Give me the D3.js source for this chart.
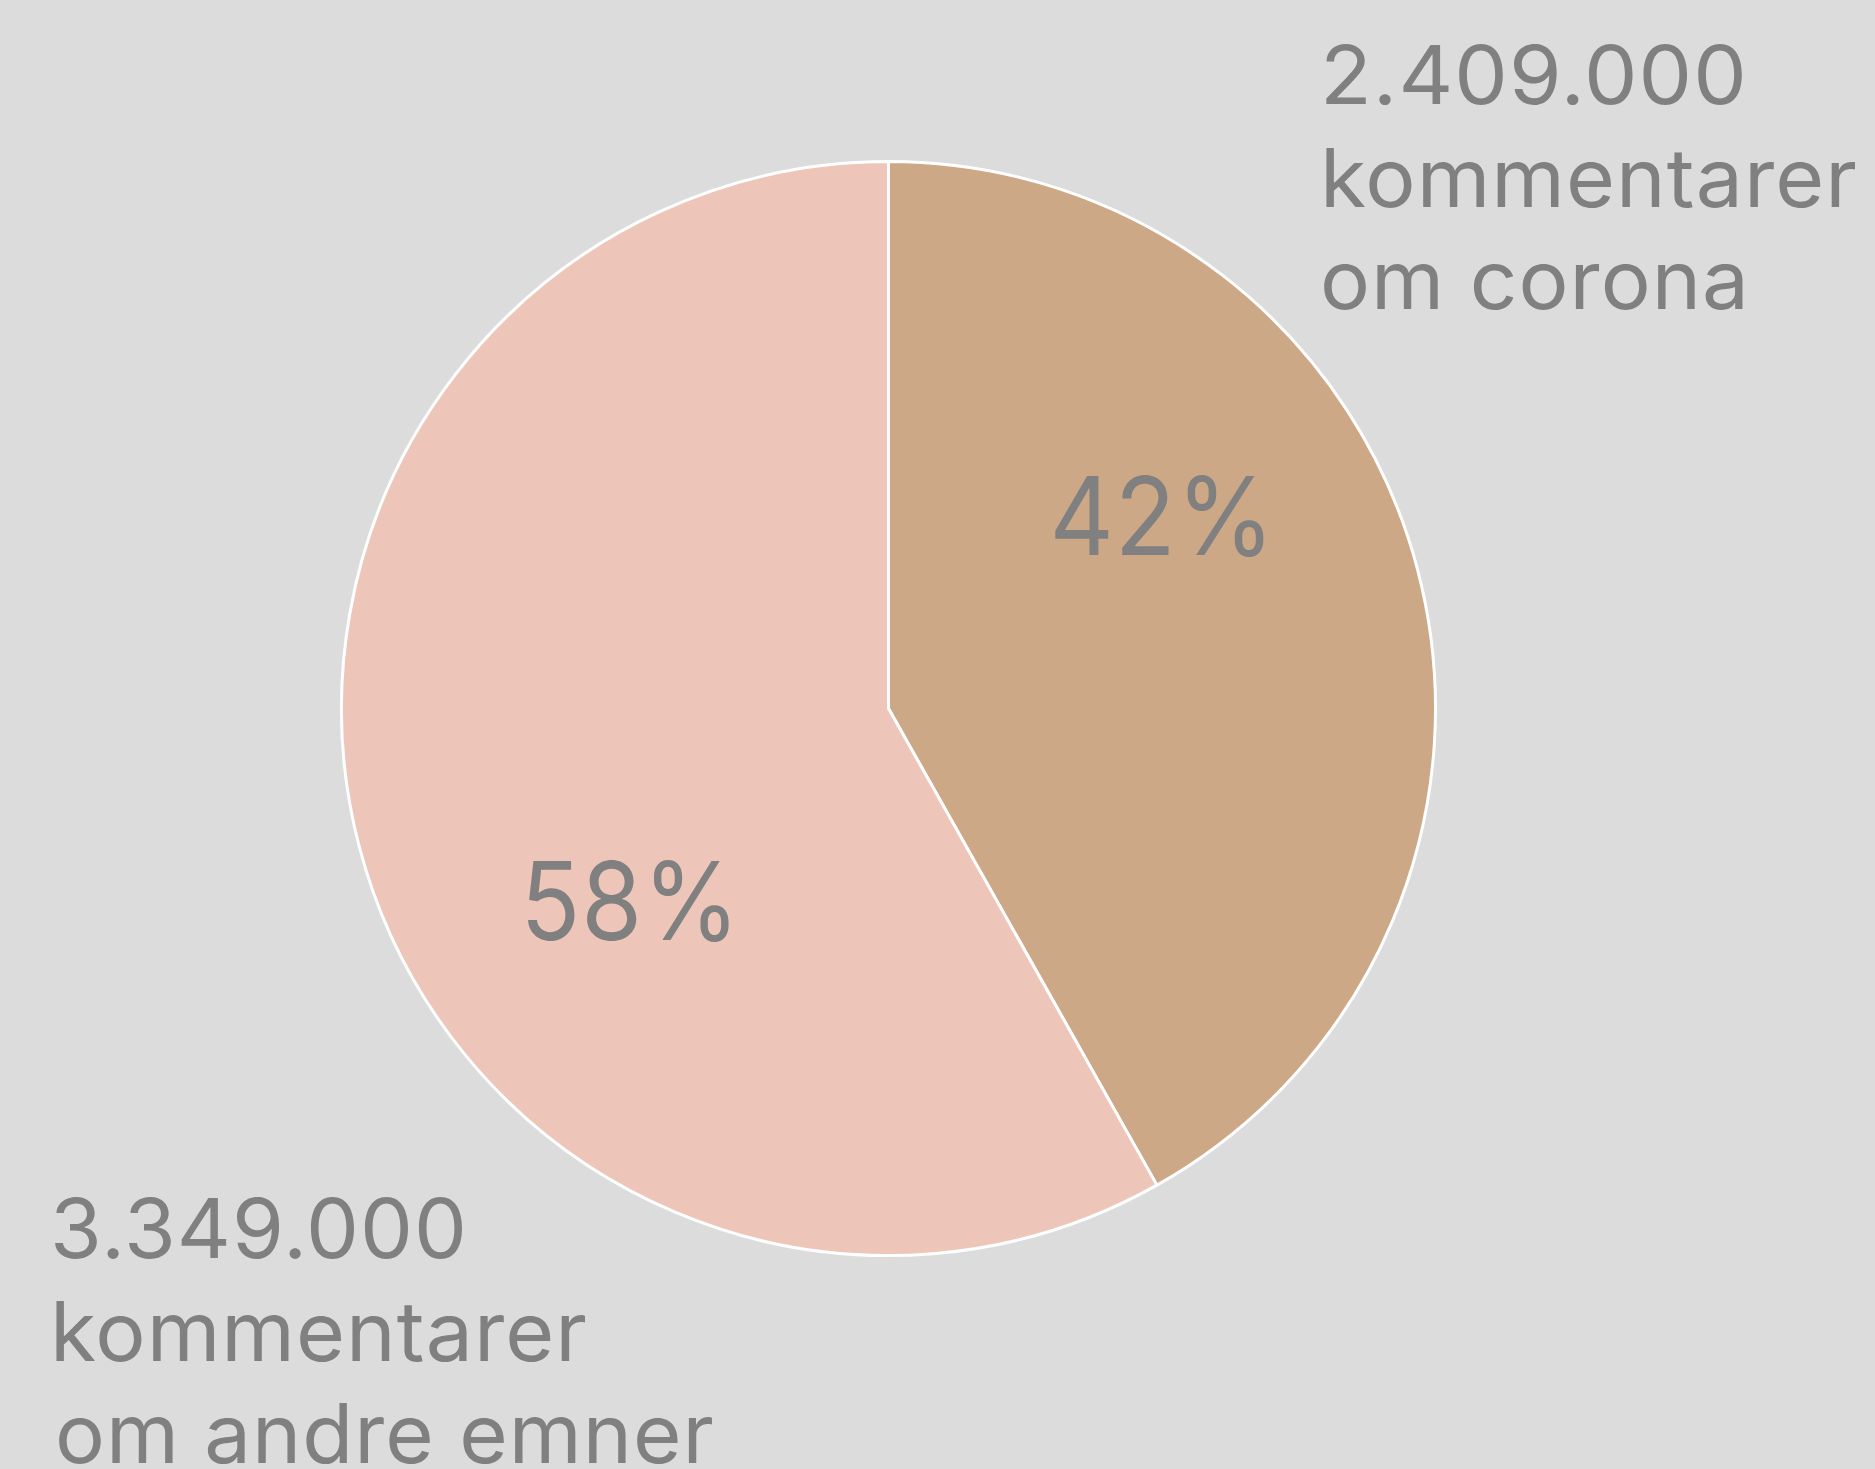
<!DOCTYPE html>
<html><head><meta charset="utf-8">
<script src="https://cdn.jsdelivr.net/npm/d3@7"></script>
<style>html,body{margin:0;padding:0;background:#dcdcdc;}svg{display:block;}</style>
</head><body>
<script>
const categories = ["om corona", "om andre emner"];
const values = [2409000, 3349000];
const percentLabels = ["42%", "58%"];
const countLabels = ["2.409.000", "3.349.000"];
const lineLabels = [["kommentarer", "om corona"], ["kommentarer", "om andre emner"]];
const colors = ["#cca886", "#edc6b9"];

const W = 1875, H = 1469;
const svg = d3.select("body").append("svg").attr("width", W).attr("height", H);
svg.append("rect").attr("width", W).attr("height", H).attr("fill", "#dcdcdc");

const cx = 888.5, cy = 708.5, R = 547;
const pie = d3.pie().sort(null).value(d => d)(values);
const arc = d3.arc().innerRadius(0).outerRadius(R);
const g = svg.append("g").attr("transform", `translate(${cx},${cy})`);
g.selectAll("path").data(pie).join("path")
  .attr("d", arc).attr("fill", (d, i) => colors[i])
  .attr("stroke", "#ffffff").attr("stroke-width", 3).attr("stroke-linejoin", "round");

const font = "Inter, 'DejaVu Sans', sans-serif";
const txt = "#808080";

// stretch a text horizontally to a target width (glyphs widened like the reference face)
function stretched(parent, t, x, y, width, size, anchor) {
  const el = parent.append("text").attr("font-family", font).attr("font-size", size)
    .attr("fill", txt).attr("letter-spacing", 1).text(t);
  const nat = el.node().getComputedTextLength();
  const sx = width / nat;
  const x0 = anchor === "middle" ? x - width / 2 : x;
  el.attr("transform", `translate(${x0},${y}) scale(${sx},1)`);
  return el;
}

// percent labels: placed at a rotated centroid
const labelR = 330, offset = -21 * Math.PI / 180;
const pctWidths = [226, 220];
const pctDx = [6, 10];
pie.forEach((d, i) => {
  const a = (d.startAngle + d.endAngle) / 2 + offset;
  stretched(g, percentLabels[i], labelR * Math.sin(a) + pctDx[i], -labelR * Math.cos(a) + 39, pctWidths[i], 108, "middle");
});

// side labels
const blocks = [
  {xs: [1320, 1320, 1320], y0: 104, widths: [428, 538, 430], size: 81},
  {xs: [50, 50, 55], y0: 1258, widths: [418, 538, 660], size: 82}
];
blocks.forEach((b, i) => {
  const lines = [countLabels[i]].concat(lineLabels[i]);
  lines.forEach((t, j) => stretched(svg, t, b.xs[j], b.y0 + j * 102.5, b.widths[j], b.size, "start"));
});
</script>
</body></html>
